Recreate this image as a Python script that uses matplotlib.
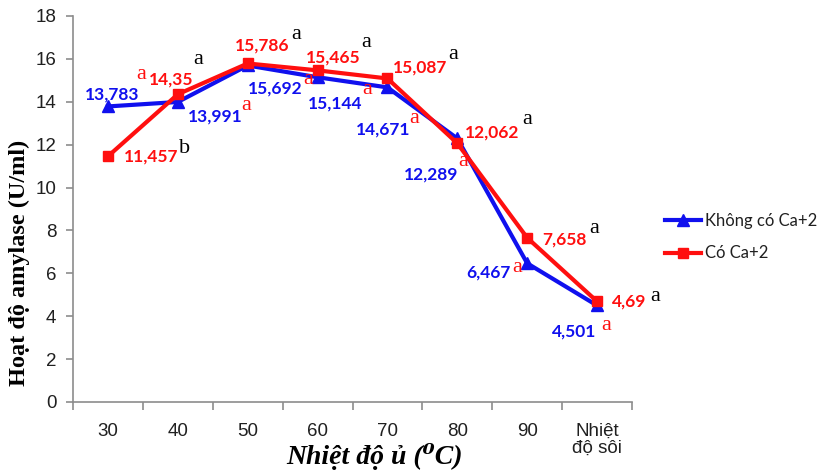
import matplotlib
matplotlib.use("Agg")
import matplotlib.pyplot as plt
from matplotlib.lines import Line2D

# data
categories = ["30", "40", "50", "60", "70", "80", "90", "Nhiệt\nđộ sôi"]
khong_ca = [13.783, 13.991, 15.692, 15.144, 14.671, 12.289, 6.467, 4.501]
co_ca = [11.457, 14.35, 15.786, 15.465, 15.087, 12.062, 7.658, 4.69]
letters_khong = ["a", "a", "a", "a", "a", "a", "a", "a"]
letters_co = ["b", "a", "a", "a", "a", "a", "a", "a"]

# label offsets (pixels from the point)
off_khong = [(4, 12), (37, -15), (28, -23), (18, -26), (-4, -42), (-26, -36), (-39, -9), (-23, -26)]
off_khong_let = [(33, 32), (68, -4), (60, -14), (50, -12), (27, -31), (6, -23), (-10, -4), (9, -20)]
off_co = [(43, 0), (-7, 15), (14, 18), (16, 13), (33, 11), (35, 11), (37, -2), (32, 0)]
off_co_let = [(77, 8), (20, 35), (49, 29), (49, 28), (66, 24), (70, 24), (67, 9), (58, 5)]

BLUE = "#1010ee"
RED = "#ff0f0f"
SANS = ["Lato", "DejaVu Sans"]
SERIF = ["Liberation Serif", "DejaVu Serif"]
TICKF = ["Liberation Sans", "DejaVu Sans"]

fig = plt.figure(figsize=(8.23, 4.72), dpi=100)
ax = fig.add_axes([73 / 823, 70 / 472, 559 / 823, 386 / 472])

x = list(range(len(categories)))
ax.plot(x, khong_ca, color=BLUE, lw=3, marker="^", ms=8, zorder=3)
ax.plot(x, co_ca, color=RED, lw=3, marker="s", ms=7, zorder=4)

def fmt(v):
    return f"{v:g}".replace(".", ",")

for i in x:
    ax.annotate(fmt(khong_ca[i]), (i, khong_ca[i]), xytext=off_khong[i],
                textcoords="offset pixels", ha="center", va="center",
                color=BLUE, fontsize=12.5, fontweight="bold", family=SANS, zorder=5)
    ax.annotate(letters_khong[i], (i, khong_ca[i]), xytext=off_khong_let[i],
                textcoords="offset pixels", ha="center", va="center",
                color=RED, fontsize=16, family=SERIF, zorder=5)
    ax.annotate(fmt(co_ca[i]), (i, co_ca[i]), xytext=off_co[i],
                textcoords="offset pixels", ha="center", va="center",
                color=RED, fontsize=12.5, fontweight="bold", family=SANS, zorder=5)
    ax.annotate(letters_co[i], (i, co_ca[i]), xytext=off_co_let[i],
                textcoords="offset pixels", ha="center", va="center",
                color="black", fontsize=16, family=SERIF, zorder=5)

ax.set_xlim(-0.5, len(categories) - 0.5)
ax.set_ylim(0, 18)
ax.set_yticks(range(0, 19, 2))
ax.set_xticks(x)
ax.set_xticks([i - 0.5 for i in range(len(categories) + 1)], minor=True)
ax.set_xticklabels(categories, family=TICKF, fontsize=13.5, color="#202020",
                   linespacing=1.0, va="top")
for lab in ax.get_yticklabels():
    lab.set_family(TICKF)
    lab.set_fontsize(13.5)
    lab.set_color("#202020")

ax.tick_params(axis="x", which="major", length=0, pad=15)
ax.tick_params(axis="x", which="minor", length=6, color="#8c8c8c", width=1.2)
ax.tick_params(axis="y", length=5, color="#8c8c8c", width=1.2, pad=7)
for s in ["top", "right"]:
    ax.spines[s].set_visible(False)
for s in ["left", "bottom"]:
    ax.spines[s].set_color("#8c8c8c")
    ax.spines[s].set_linewidth(1.2)

fig.text(0.024, 0.443, "Hoạt độ amylase (U/ml)", rotation=90, ha="center",
         va="center", family=SERIF, fontsize=17.5, fontweight="bold")
fig.text(0.455, 0.032, "Nhiệt độ ủ (⁰C)", ha="center", va="center",
         family=SERIF, fontsize=20, fontweight="bold", style="italic")

handles = [Line2D([], [], color=BLUE, lw=3, marker="^", ms=8),
           Line2D([], [], color=RED, lw=3, marker="s", ms=7)]
leg = fig.legend(handles, ["Không có Ca+2", "Có Ca+2"], loc="center left",
                 bbox_to_anchor=(658 / 823, 1 - 237 / 472), frameon=False,
                 prop={"family": SANS, "size": 12}, handlelength=2.2,
                 handletextpad=0.2, labelspacing=1.0, borderaxespad=0)
for t in leg.get_texts():
    t.set_color("#202020")

fig.savefig("out.png", dpi=100)
